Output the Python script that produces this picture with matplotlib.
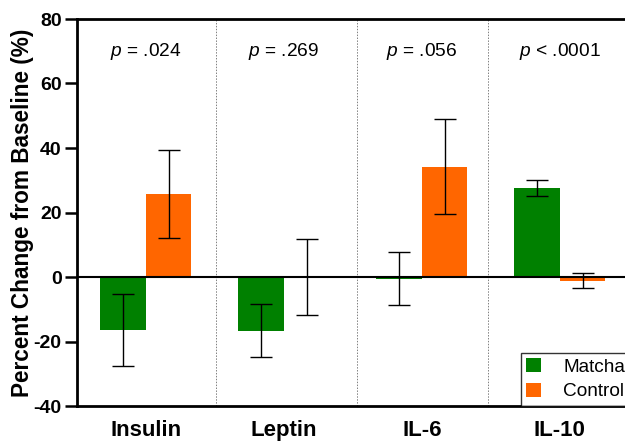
import matplotlib
matplotlib.use("Agg")
import matplotlib.pyplot as plt
import numpy as np

categories = ["Insulin", "Leptin", "IL-6", "IL-10"]
matcha = [-16.4, -16.6, -0.5, 27.7]
matcha_err = [11.2, 8.3, 8.1, 2.5]
control = [25.8, -0.1, 34.2, -1.1]
control_err = [13.6, 11.8, 14.8, 2.25]
p_labels = [("p", " = .024"), ("p", " = .269"), ("p", " = .056"), ("p", " < .0001")]

plt.rcParams['font.family'] = ['Liberation Sans', 'DejaVu Sans']
plt.rcParams['axes.unicode_minus'] = False
plt.rcParams['mathtext.fontset'] = 'custom'
plt.rcParams['mathtext.it'] = 'Liberation Sans:italic'

fig = plt.figure(figsize=(6.25, 4.44), dpi=100)
ax = fig.add_axes([77/625, 1 - 406/444, 1 - 77/625 + 0.006, (406 - 19)/444])

x = np.arange(len(categories))
w = 0.33
ax.bar(x - w/2, matcha, w, color="#008000", label="Matcha", zorder=2)
ax.bar(x + w/2, control, w, color="#FF6600", label="Control", zorder=2)
ax.errorbar(x - w/2, matcha, yerr=matcha_err, fmt="none", ecolor="black",
            elinewidth=1.0, capsize=8, capthick=1.0, zorder=3)
ax.errorbar(x + w/2, control, yerr=control_err, fmt="none", ecolor="black",
            elinewidth=1.0, capsize=8, capthick=1.0, zorder=3)

ax.axhline(0, color="black", lw=1.5, zorder=4)
for d in [0.51, 1.53, 2.48]:
    ax.axvline(d, color="gray", lw=0.7, ls=(0, (1.5, 1.5)), zorder=1)

for xi, (pp, rest) in zip(x, p_labels):
    ax.text(xi, 70, r"$\it{" + pp + "}$" + rest, ha="center", va="center",
            fontsize=13.8)

ax.set_xlim(-0.5, 3.5)
ax.set_ylim(-40, 80)
ax.set_yticks([-40, -20, 0, 20, 40, 60, 80])
ax.set_xticks(x)
ax.set_xticklabels(categories, fontsize=16, fontweight="bold")
for lab in ax.get_yticklabels():
    lab.set_fontweight("bold")
    lab.set_fontsize(14)
ax.tick_params(axis="x", length=0, pad=10)
ax.tick_params(axis="y", length=9, width=1.8, direction="out", pad=2)
ax.set_ylabel("Percent Change from Baseline (%)", fontsize=16.3, fontweight="bold", labelpad=0)

for s in ["left", "bottom", "top"]:
    ax.spines[s].set_linewidth(2)
ax.spines["right"].set_visible(False)

leg = ax.legend(loc="lower left", bbox_to_anchor=(0.804, 0.0), fontsize=13.7, frameon=True,
                fancybox=False, edgecolor="black", handlelength=0.75, handleheight=0.75,
                handletextpad=1.2, borderpad=0.3, labelspacing=0.35, borderaxespad=0)
leg.get_frame().set_linewidth(1.0)

fig.savefig("out.png", dpi=100)
